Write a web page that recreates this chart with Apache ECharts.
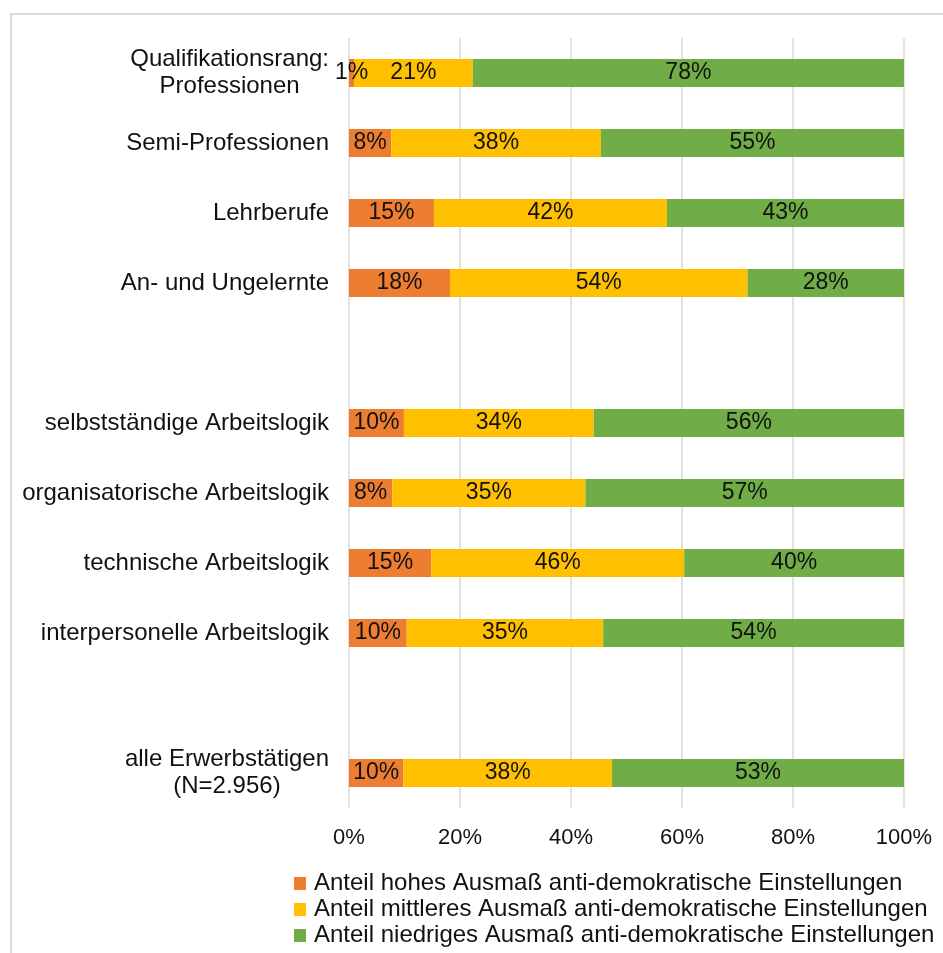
<!DOCTYPE html>
<html>
<head>
<meta charset="utf-8">
<script src="https://cdn.jsdelivr.net/npm/echarts@6/dist/echarts.min.js"></script>
<style>
  html, body { margin: 0; padding: 0; background: #fff; }
  #chart { width: 943px; height: 953px; }
</style>
</head>
<body>
<div id="chart"></div>
<script>
// Kategorien (leere Einträge = Abstand zwischen den Gruppen)
var categories = [
  'Qualifikationsrang:\nProfessionen',
  'Semi-Professionen',
  'Lehrberufe',
  'An- und Ungelernte',
  ' ',
  'selbstständige Arbeitslogik',
  'organisatorische Arbeitslogik',
  'technische Arbeitslogik',
  'interpersonelle Arbeitslogik',
  '  ',
  'alle Erwerbstätigen\n(N=2.956)'
];

var seriesNames = [
  'Anteil hohes Ausmaß anti-demokratische Einstellungen',
  'Anteil mittleres Ausmaß anti-demokratische Einstellungen',
  'Anteil niedriges Ausmaß anti-demokratische Einstellungen'
];

// Anteile in Prozent
var hoch     = [0.9, 7.6, 15.3, 18.2, null, 9.9, 7.8, 14.8, 10.4, null, 9.8];
var mittel   = [21.4, 37.8, 42.0, 53.6, null, 34.2, 34.8, 45.6, 35.4, null, 37.6];
var niedrig  = [77.7, 54.6, 42.7, 28.2, null, 55.9, 57.4, 39.6, 54.2, null, 52.6];

var xTicks = [0, 20, 40, 60, 80, 100];

var colors = ['#ED7D31', '#FFC000', '#70AD47'];
var fontFamily = '"Liberation Sans", Arial, sans-serif';
var txt = '#111';

function catLabel(value) {
  if (value.indexOf('\n') < 0) return value;
  return value.split('\n').map(function (s) { return '{c|' + s + '}'; }).join('\n');
}

function makeSeries(name, data, color) {
  return {
    name: name,
    type: 'bar',
    stack: 'total',
    barWidth: 28,
    data: data,
    itemStyle: { color: color },
    label: {
      show: true,
      position: 'inside',
      color: txt,
      fontSize: 23,
      fontFamily: fontFamily,
      formatter: function (p) { return Math.round(p.value) + '%'; }
    }
  };
}

var chart = echarts.init(document.getElementById('chart'));
chart.setOption({
  backgroundColor: '#fff',
  animation: false,
  color: colors,
  graphic: [{
    type: 'rect',
    shape: { x: 11, y: 14, width: 960, height: 960 },
    style: { fill: 'none', stroke: '#d9d9d9', lineWidth: 2 },
    silent: true
  }],
  grid: { left: 349, right: 39, top: 38, bottom: 145, containLabel: false },
  xAxis: {
    type: 'value',
    min: 0,
    max: 100,
    interval: 20,
    axisLine: { show: false },
    axisTick: { show: false },
    splitLine: { show: true, lineStyle: { color: '#d9d9d9', width: 1.5 } },
    axisLabel: {
      margin: 19,
      fontSize: 22,
      color: txt,
      fontFamily: fontFamily,
      formatter: function (v) { return xTicks.indexOf(v) >= 0 ? v + '%' : ''; }
    }
  },
  yAxis: {
    type: 'category',
    inverse: true,
    data: categories,
    axisLine: { show: false },
    axisTick: { show: false },
    axisLabel: {
      margin: 20,
      fontSize: 24,
      color: txt,
      fontFamily: fontFamily,
      lineHeight: 27,
      formatter: catLabel,
      rich: {
        c: { align: 'center', fontSize: 24, color: txt, fontFamily: fontFamily, lineHeight: 27 }
      }
    }
  },
  legend: {
    orient: 'vertical',
    left: 294,
    top: 871,
    height: 200,
    padding: 0,
    itemWidth: 12,
    itemHeight: 13,
    itemGap: 1,
    icon: 'rect',
    data: seriesNames,
    textStyle: { fontSize: 24, lineHeight: 25, color: txt, fontFamily: fontFamily, padding: [0, 0, 0, 3] }
  },
  series: [
    makeSeries(seriesNames[0], hoch, colors[0]),
    makeSeries(seriesNames[1], mittel, colors[1]),
    makeSeries(seriesNames[2], niedrig, colors[2])
  ]
});
</script>
</body>
</html>
